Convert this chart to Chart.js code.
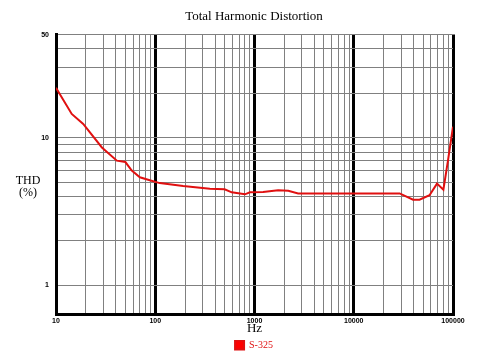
<!DOCTYPE html>
<html>
<head>
<meta charset="utf-8">
<script src="https://cdn.jsdelivr.net/npm/chart.js@4/dist/chart.umd.min.js"></script>
<style>
  body { margin: 0; background: #fff; }
</style>
</head>
<body>
<canvas id="grafico" width="494" height="352"></canvas>
<script>
// frequencias (Hz) e THD (%)
var freqs = [10, 14.4, 18.8, 29, 41, 50, 58, 70, 88, 111, 191, 355, 500, 590, 800, 900,
             1220, 1730, 2190, 2750, 9100, 29000, 39600, 46000, 58000, 69000, 80000, 89000, 100000];
var thd = [21.8, 14.5, 12.4, 8.6, 7.0, 6.85, 6.0, 5.4, 5.15, 4.93, 4.71, 4.52, 4.48, 4.27, 4.14, 4.27,
           4.29, 4.41, 4.37, 4.2, 4.2, 4.2, 3.81, 3.81, 4.08, 4.89, 4.45, 7.0, 11.9];

var xTicks = [];
[10, 100, 1000, 10000].forEach(function (d) {
    for (var i = 1; i < 10; i++) xTicks.push(d * i);
});
xTicks.push(100000);
var xLabels = [10, 100, 1000, 10000, 100000];

var yTicks = [1, 2, 3, 4, 5, 6, 7, 8, 9, 10, 20, 30, 40, 50];
var yLabels = [1, 10, 50];

var pontos = freqs.map(function (f, i) { return { x: f, y: thd[i] }; });

var textos = {
    id: 'textos',
    afterDraw: function (chart) {
        var c = chart.ctx;
        c.save();
        c.fillStyle = '#000';
        c.font = '12px "Liberation Serif"';
        c.textAlign = 'center';
        c.textBaseline = 'middle';
        c.fillText('THD', 28, 181);
        c.fillText('(%)', 28, 193);
        c.restore();
    }
};

var ctx = document.getElementById('grafico').getContext('2d');

var grafico = new Chart(ctx, {
    type: 'line',
    data: {
        datasets: [{
            label: 'S-325',
            data: pontos,
            borderColor: '#e01010',
            backgroundColor: '#ff0000',
            borderWidth: 2,
            pointRadius: 0,
            tension: 0
        }]
    },
    options: {
        responsive: false,
        animation: false,
        // area larga (0..508) para centrar titulo e legenda em ~254
        layout: { padding: { left: 0, right: -14, top: 0, bottom: -8 } },
        plugins: {
            title: {
                display: true,
                text: 'Total Harmonic Distortion',
                color: '#000',
                font: { family: 'Liberation Serif', size: 13, weight: 'normal' },
                padding: { top: 9, bottom: 10 }
            },
            legend: {
                display: true,
                position: 'bottom',
                labels: {
                    color: '#e01010',
                    font: { family: 'Liberation Serif', size: 10 },
                    boxWidth: 9,
                    boxHeight: 9,
                    padding: 0
                }
            },
            tooltip: { enabled: false }
        },
        scales: {
            x: {
                type: 'logarithmic',
                bounds: 'data',
                min: 10,
                max: 100000,
                afterBuildTicks: function (scale) {
                    scale.ticks = xTicks.map(function (v) { return { value: v }; });
                },
                afterFit: function (scale) { scale.height = 26; },
                ticks: {
                    autoSkip: false,
                    maxRotation: 0,
                    padding: 3,
                    color: '#000',
                    font: { family: 'Liberation Sans', size: 7, weight: 'bold' },
                    callback: function (v) { return xLabels.indexOf(v) >= 0 ? String(v) : ''; }
                },
                grid: {
                    drawTicks: false,
                    color: function (c) { return c.tick && xLabels.indexOf(c.tick.value) >= 0 ? '#000' : '#808080'; },
                    lineWidth: function (c) { return c.tick && xLabels.indexOf(c.tick.value) >= 0 ? 3 : 1; }
                },
                border: { color: '#000', width: 3 },
                title: {
                    display: true,
                    text: 'Hz',
                    color: '#000',
                    font: { family: 'Liberation Serif', size: 13 },
                    padding: { top: 0, bottom: 4 }
                }
            },
            y: {
                type: 'logarithmic',
                bounds: 'data',
                min: 0.64,
                max: 50,
                afterBuildTicks: function (scale) {
                    scale.min = 0.64;
                    scale.max = 50;
                    scale.ticks = yTicks.map(function (v) { return { value: v }; });
                },
                afterFit: function (scale) { scale.width = 56; },
                ticks: {
                    autoSkip: false,
                    padding: 7,
                    color: '#000',
                    font: { family: 'Liberation Sans', size: 7, weight: 'bold' },
                    callback: function (v) { return yLabels.indexOf(v) >= 0 ? String(v) : ''; }
                },
                grid: {
                    drawTicks: false,
                    color: '#808080',
                    lineWidth: 1
                },
                border: { color: '#000', width: 3 }
            },
            // eixo vazio a direita, so para reservar espaco
            y2: {
                type: 'linear',
                position: 'right',
                afterFit: function (scale) { scale.width = 55; },
                grid: { display: false },
                ticks: { display: false },
                border: { display: false }
            }
        }
    },
    plugins: [textos]
});
</script>
</body>
</html>
